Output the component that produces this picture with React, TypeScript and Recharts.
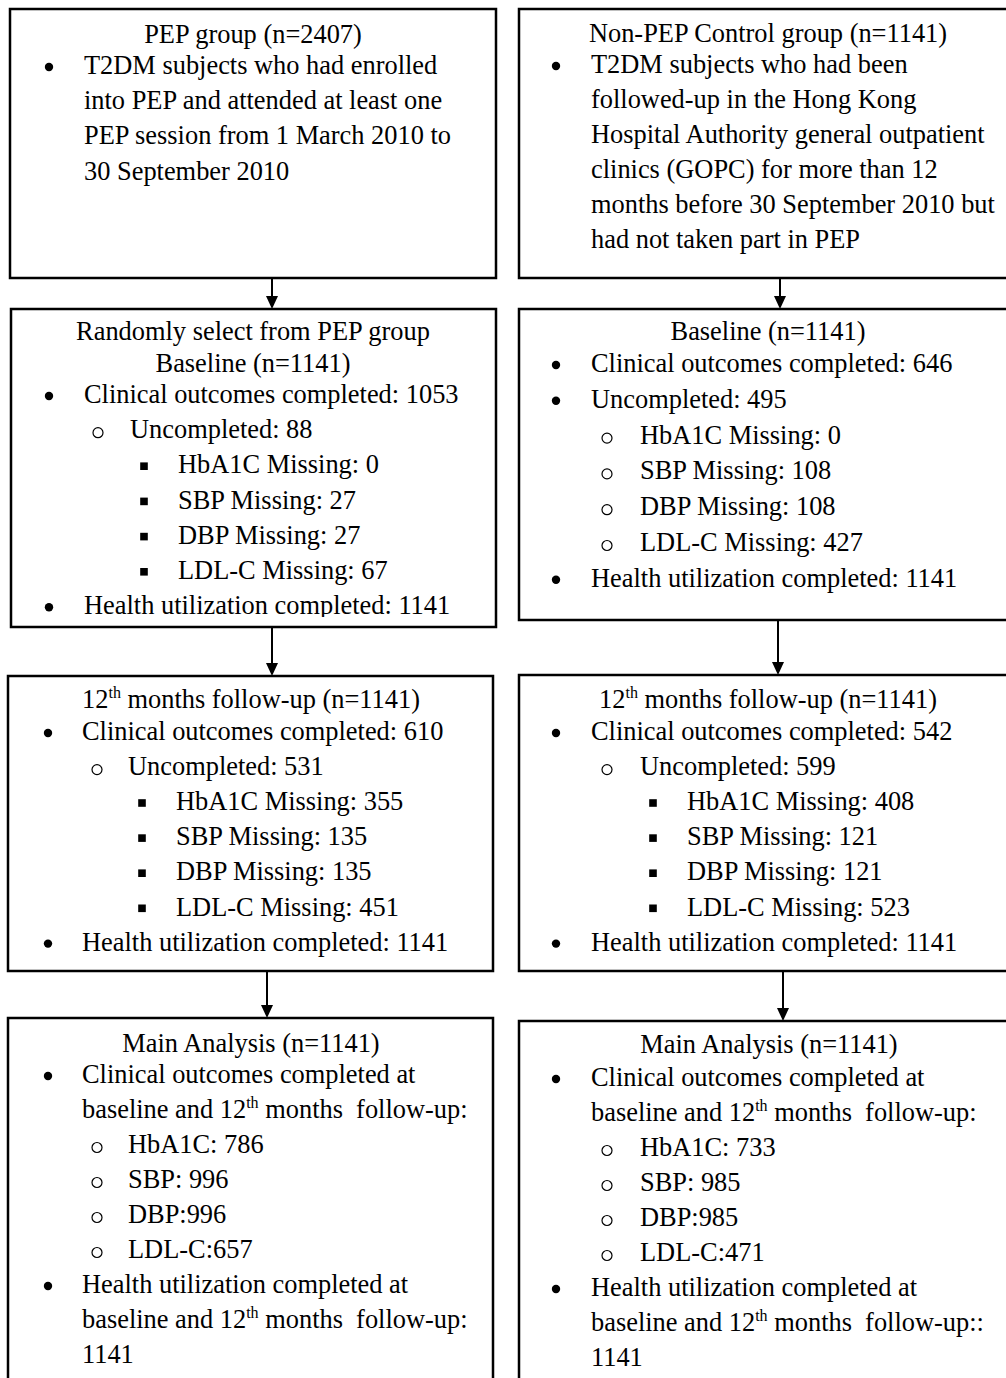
import React from 'react';
import { ComposedChart, XAxis, YAxis, ReferenceArea, ReferenceLine, ReferenceDot, Customized } from 'recharts';

const W = 1006;
const H = 1378;

// values
const groupTitles = ['PEP group', 'Non-PEP Control group'];
const enrolledN = [2407, 1141];
const sampleN = [1141, 1141];
const measures = ['HbA1C', 'SBP', 'DBP', 'LDL-C'];
const baselineCompleted = [1053, 646];
const baselineUncompleted = [88, 495];
const baselineMissingPEP = [0, 27, 27, 67];
const baselineMissingCtrl = [0, 108, 108, 427];
const followCompleted = [610, 542];
const followUncompleted = [531, 599];
const followMissingPEP = [355, 135, 135, 451];
const followMissingCtrl = [408, 121, 121, 523];
const analysisPEP = [786, 996, 996, 657];
const analysisCtrl = [733, 985, 985, 471];
const analysisSep = [': ', ': ', ':', ':'];
const healthCompleted = [1141, 1141];

const pepDescription = [
  'T2DM subjects who had enrolled',
  'into PEP and attended at least one',
  'PEP session from 1 March 2010 to',
  '30 September 2010',
];
const ctrlDescription = [
  'T2DM subjects who had been',
  'followed-up in the Hong Kong',
  'Hospital Authority general outpatient',
  'clinics (GOPC) for more than 12',
  'months before 30 September 2010 but',
  'had not taken part in PEP',
];

type Line = { lvl: number; cont?: boolean; text: string };

const describe = (rows: string[]): Line[] =>
  rows.map((t, i) => ({ lvl: 1, cont: i > 0, text: t }));

const missing = (vals: number[], lvl: number): Line[] =>
  measures.map((m, i) => ({ lvl, text: `${m} Missing: ${vals[i]}` }));

const analysis = (vals: number[], healthColon: string, g: number): Line[] => [
  { lvl: 0, text: `Main Analysis (n=${sampleN[g]})` },
  { lvl: 1, text: 'Clinical outcomes completed at' },
  { lvl: 1, cont: true, text: 'baseline and 12{th} months  follow-up:' },
  ...measures.map((m, i) => ({ lvl: 2, text: `${m}${analysisSep[i]}${vals[i]}` })),
  { lvl: 1, text: 'Health utilization completed at' },
  { lvl: 1, cont: true, text: `baseline and 12{th} months  follow-up${healthColon}` },
  { lvl: 1, cont: true, text: `${healthCompleted[g]}` },
];

// indent sets: [marker1, text1, marker2, text2, marker3, text3]
const indA = [49, 84, 98, 130, 144, 178];
const indB = [48, 82, 97, 128, 142, 176];
const indR = [556, 591, 607, 640, 653, 687];

const boxes = [
  {
    rect: [10, 496, 9, 278], cx: 253, ind: indA, y0: 43, gap: 31, step: 35.2,
    lines: [{ lvl: 0, text: `${groupTitles[0]} (n=${enrolledN[0]})` }, ...describe(pepDescription)],
  },
  {
    rect: [519, 1012, 9, 278], cx: 768, ind: indR, y0: 42, gap: 31, step: 35,
    lines: [{ lvl: 0, text: `${groupTitles[1]} (n=${enrolledN[1]})` }, ...describe(ctrlDescription)],
  },
  {
    rect: [11, 496, 309, 627], cx: 253, ind: indA, y0: 340, gap: 31.5, step: 35.2, clip: 617,
    lines: [
      { lvl: 0, text: 'Randomly select from PEP group' },
      { lvl: 0, text: `Baseline (n=${sampleN[0]})` },
      { lvl: 1, text: `Clinical outcomes completed: ${baselineCompleted[0]}` },
      { lvl: 2, text: `Uncompleted: ${baselineUncompleted[0]}` },
      ...missing(baselineMissingPEP, 3),
      { lvl: 1, text: `Health utilization completed: ${healthCompleted[0]}` },
    ],
  },
  {
    rect: [519, 1012, 309, 620], cx: 768, ind: indR, y0: 340, gap: 32, step: 35.8,
    lines: [
      { lvl: 0, text: `Baseline (n=${sampleN[1]})` },
      { lvl: 1, text: `Clinical outcomes completed: ${baselineCompleted[1]}` },
      { lvl: 1, text: `Uncompleted: ${baselineUncompleted[1]}` },
      ...missing(baselineMissingCtrl, 2),
      { lvl: 1, text: `Health utilization completed: ${healthCompleted[1]}` },
    ],
  },
  {
    rect: [8, 493, 676, 971], cx: 251, ind: indB, y0: 708, gap: 32, step: 35.1,
    lines: [
      { lvl: 0, text: `12{th} months follow-up (n=${sampleN[0]})` },
      { lvl: 1, text: `Clinical outcomes completed: ${followCompleted[0]}` },
      { lvl: 2, text: `Uncompleted: ${followUncompleted[0]}` },
      ...missing(followMissingPEP, 3),
      { lvl: 1, text: `Health utilization completed: ${healthCompleted[0]}` },
    ],
  },
  {
    rect: [519, 1012, 675, 971], cx: 768, ind: indR, y0: 708, gap: 32, step: 35.1,
    lines: [
      { lvl: 0, text: `12{th} months follow-up (n=${sampleN[1]})` },
      { lvl: 1, text: `Clinical outcomes completed: ${followCompleted[1]}` },
      { lvl: 2, text: `Uncompleted: ${followUncompleted[1]}` },
      ...missing(followMissingCtrl, 3),
      { lvl: 1, text: `Health utilization completed: ${healthCompleted[1]}` },
    ],
  },
  { rect: [8, 493, 1018, 1395], cx: 251, ind: indB, y0: 1052, gap: 31, step: 35, lines: analysis(analysisPEP, ':', 0) },
  { rect: [519, 1012, 1021, 1395], cx: 769, ind: indR, y0: 1053, gap: 33, step: 35, lines: analysis(analysisCtrl, '::', 1) },
];

const arrows = [
  { x: 272, y1: 278, y2: 309 },
  { x: 272, y1: 627, y2: 676 },
  { x: 267, y1: 971, y2: 1018 },
  { x: 780, y1: 278, y2: 309 },
  { x: 778, y1: 620, y2: 675 },
  { x: 783, y1: 971, y2: 1021 },
];

const FONT = "'Liberation Serif', 'Times New Roman', serif";
const PRE: React.CSSProperties = { whiteSpace: 'pre' };

const richText = (s: string) => {
  const parts = s.split(/\{(.*?)\}/);
  const out: React.ReactNode[] = [];
  let raised = false;
  parts.forEach((p, i) => {
    if (i % 2 === 1) {
      out.push(<tspan key={i} dy={-10} fontSize={16}>{p}</tspan>);
      raised = true;
    } else if (p) {
      out.push(<tspan key={i} dy={raised ? 10 : 0} style={PRE}>{p}</tspan>);
      raised = false;
    }
  });
  return out;
};

const Marker = ({ lvl, x, y }: { lvl: number; x: number; y: number }) => {
  if (lvl === 1) return <circle cx={x} cy={y - 7} r={4.2} fill="#000" />;
  if (lvl === 2) return <circle cx={x} cy={y - 5.5} r={5} fill="none" stroke="#000" strokeWidth={1.2} />;
  return <rect x={x - 3.8} y={y - 11} width={7.6} height={7.6} fill="#000" />;
};

const FlowText = () => (
  <g fontFamily={FONT} fontSize={26.4} fill="#000">
    <defs>
      {boxes.map((b, bi) =>
        b.clip ? (
          <clipPath id={`clip-${bi}`} key={bi}>
            <rect x={b.rect[0]} y={b.rect[2]} width={b.rect[1] - b.rect[0]} height={b.clip - b.rect[2]} />
          </clipPath>
        ) : null
      )}
    </defs>
    {boxes.map((b, bi) => {
      let y = b.y0;
      const items = b.lines.map((ln, i) => {
        if (i > 0) y += b.lines[i - 1].lvl === 0 ? b.gap : b.step;
        if (ln.lvl === 0) {
          return (
            <text key={i} x={b.cx} y={y} textAnchor="middle" style={PRE} xmlSpace="preserve">
              {richText(ln.text)}
            </text>
          );
        }
        const mx = b.ind[(ln.lvl - 1) * 2];
        const tx = b.ind[(ln.lvl - 1) * 2 + 1];
        return (
          <g key={i}>
            {!ln.cont && <Marker lvl={ln.lvl} x={mx} y={y} />}
            <text x={tx} y={y} style={PRE} xmlSpace="preserve">{richText(ln.text)}</text>
          </g>
        );
      });
      return (
        <g key={bi} clipPath={b.clip ? `url(#clip-${bi})` : undefined}>
          {items}
        </g>
      );
    })}
  </g>
);

const arrowHead = (props: any) => {
  const { cx, cy } = props;
  return <path d={`M${cx - 6},${cy - 13} L${cx + 6},${cy - 13} L${cx},${cy} Z`} fill="#000" />;
};

export default function App() {
  return (
    <div style={{ position: 'absolute', left: 0, top: 0, width: W, height: H, background: '#fff' }}>
      <ComposedChart width={W} height={H} margin={{ top: 0, right: 0, bottom: 0, left: 0 }} data={[{ x: 0, y: 0 }]}>
        <XAxis type="number" dataKey="x" domain={[0, W]} hide allowDataOverflow />
        <YAxis type="number" dataKey="y" domain={[0, H]} reversed hide allowDataOverflow />
        <Customized component={FlowText} />
        {boxes.map((b, i) => (
          <ReferenceArea
            key={`box-${i}`}
            x1={b.rect[0]}
            x2={b.rect[1]}
            y1={b.rect[2]}
            y2={b.rect[3]}
            fill="none"
            fillOpacity={0}
            stroke="#000"
            strokeWidth={2.5}
            ifOverflow="visible"
          />
        ))}
        {arrows.map((a, i) => (
          <ReferenceLine
            key={`shaft-${i}`}
            segment={[{ x: a.x, y: a.y1 }, { x: a.x, y: a.y2 - 10 }]}
            stroke="#000"
            strokeWidth={2}
            ifOverflow="visible"
          />
        ))}
        {arrows.map((a, i) => (
          <ReferenceDot key={`head-${i}`} x={a.x} y={a.y2} r={6} shape={arrowHead} ifOverflow="visible" />
        ))}
      </ComposedChart>
    </div>
  );
}
